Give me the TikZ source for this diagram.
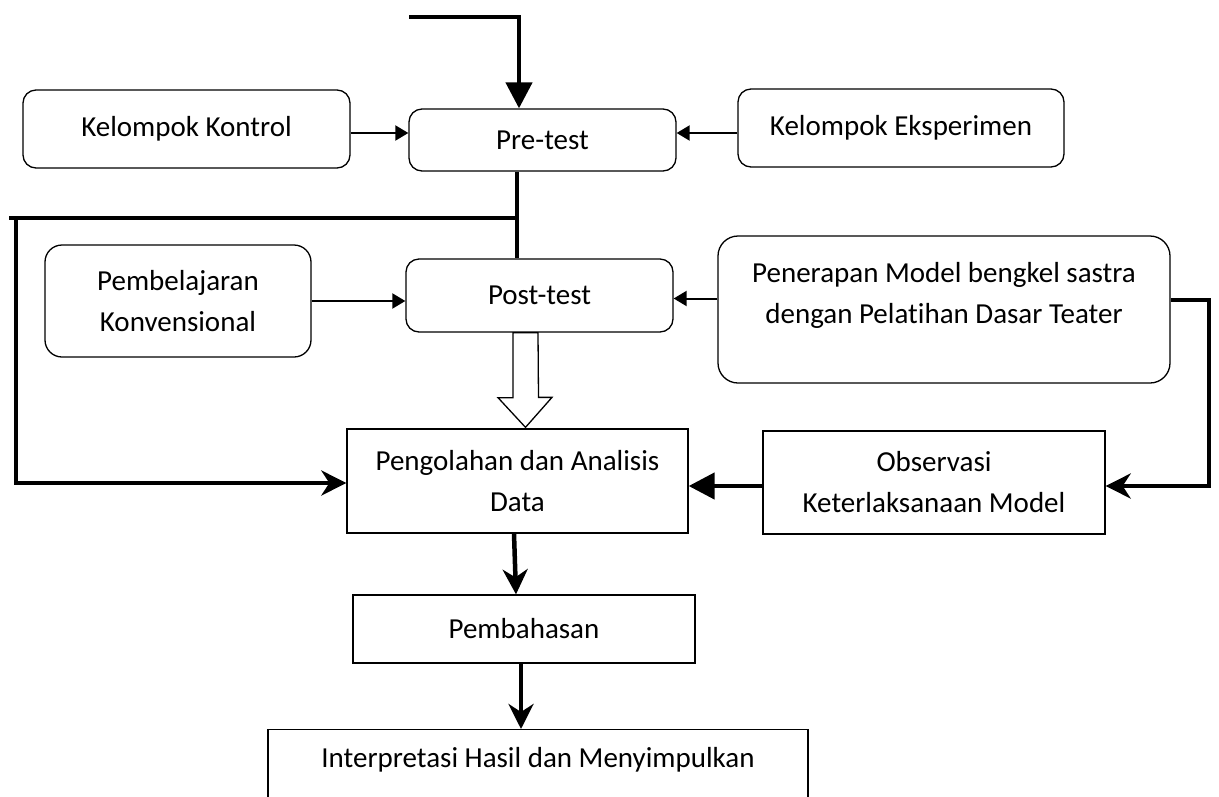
\documentclass[tikz,border=0pt]{standalone}
\usepackage{fontspec}
\setmainfont{Carlito}[Ligatures=CommonOff]
\usetikzlibrary{arrows.meta,calc}
\begin{document}
\begin{tikzpicture}[x=1pt,y=-1pt,
  font=\fontsize{29}{41}\selectfont,
  rbox/.style={draw,line width=1.3pt,rounded corners=13pt,fill=white,align=center,inner sep=0pt},
  sbox/.style={draw,line width=1.3pt,fill=white,align=center,inner sep=0pt},
  thinarrow/.style={line width=2pt,-{Triangle[length=13pt,width=15pt]}},
  heavy/.style={line width=4.5pt},
  heavytri/.style={heavy,-{Triangle[length=26pt,width=26pt]}},
  heavyopen/.style={heavy,-{Stealth[length=25pt,width=25pt,inset=8pt]}},
  blockarrow/.style={draw,line width=1.3pt,fill=white,line join=miter}
]
\useasboundingbox (0,0) rectangle (1219,796);
\clip (0,0) rectangle (1219,796);

% boxes
\node[rbox,minimum width=327pt,minimum height=78pt] (kon) at (186.5,129) {Kelompok Kontrol};
\node[rbox,minimum width=267pt,minimum height=62pt] (pre) at (542.5,140) {Pre-test};
\node[rbox,minimum width=326pt,minimum height=78pt] (eks) at (901,128) {Kelompok Eksperimen};
\node[rbox,rounded corners=17pt,minimum width=266pt,minimum height=112pt] (pbl) at (178,301) {Pembelajaran\\Konvensional};
\node[rbox,minimum width=267pt,minimum height=73pt] (post) at (539.5,295.5) {Post-test};
\node[rbox,rounded corners=20pt,minimum width=452pt,minimum height=147pt] (pen) at (944,309.5) {Penerapan Model bengkel sastra\\dengan Pelatihan Dasar Teater\\[-8pt]\mbox{}};
\node[sbox,minimum width=341pt,minimum height=104pt] (peng) at (517.5,481) {Pengolahan dan Analisis\\Data};
\node[sbox,minimum width=342pt,minimum height=103pt] (obs) at (934,482.5) {Observasi\\Keterlaksanaan Model};
\node[sbox,minimum width=342pt,minimum height=68pt] (pemb) at (524,629) {Pembahasan};
\node[sbox,minimum width=540pt,minimum height=96pt,anchor=north] (interp) at (538,729) {Interpretasi Hasil dan Menyimpulkan\\\mbox{}};

% entry line from the top
\coordinate (src) at (409,17);
\draw[heavytri] (src) -| ($(pre.north)+(-23.5,0)$);

% group boxes into the tests
\draw[thinarrow] ($(kon.east)+(0,4)$) coordinate (k1) -- (k1 -| pre.west);
\draw[thinarrow] ($(eks.west)+(0,5)$) coordinate (e1) -- (e1 -| pre.east);
\draw[thinarrow] (pbl.east) -- (pbl.east -| post.west);
\draw[thinarrow] ($(pen.west)+(0,-11)$) coordinate (p1) -- (p1 -| post.east);

% pre-test to post-test and the loop to the analysis
\coordinate (j) at (517,218);
\coordinate (lc) at (16,218);
\draw[heavy] (pre.south -| j) -- (post.north -| j);
\draw[heavy] (j) -- (9,218);
\draw[heavyopen] (lc) |- ($(peng.west)+(0,2)$);

% hollow block arrow from post-test
\coordinate (bx) at (525.5,0);
\draw[blockarrow] ($(post.south -| bx)+(-12.5,0)$) -- ++(0,65) -- ++(-15,0)
  -- ($(peng.north -| bx)+(0,-1)$) -- ++(26.5,-30) -- ++(-13.5,0)
  -- ($(post.south -| bx)+(12.5,0)$) -- cycle;

% treatment to observation loop
\coordinate (rc) at (1209,300);
\draw[heavyopen] (rc -| pen.east) -- (rc) |- ($(obs.east)+(0,3.5)$);
\draw[heavytri] ($(obs.west)+(0,3.5)$) coordinate (o1) -- (o1 -| peng.east);

% final steps
\draw[heavyopen] ($(peng.south)+(-3.5,0)$) -- ($(pemb.north)+(-8,0)$);
\draw[heavyopen] ($(pemb.south)+(-3,0)$) coordinate (m1) -- (m1 |- interp.north);
\end{tikzpicture}
\end{document}
